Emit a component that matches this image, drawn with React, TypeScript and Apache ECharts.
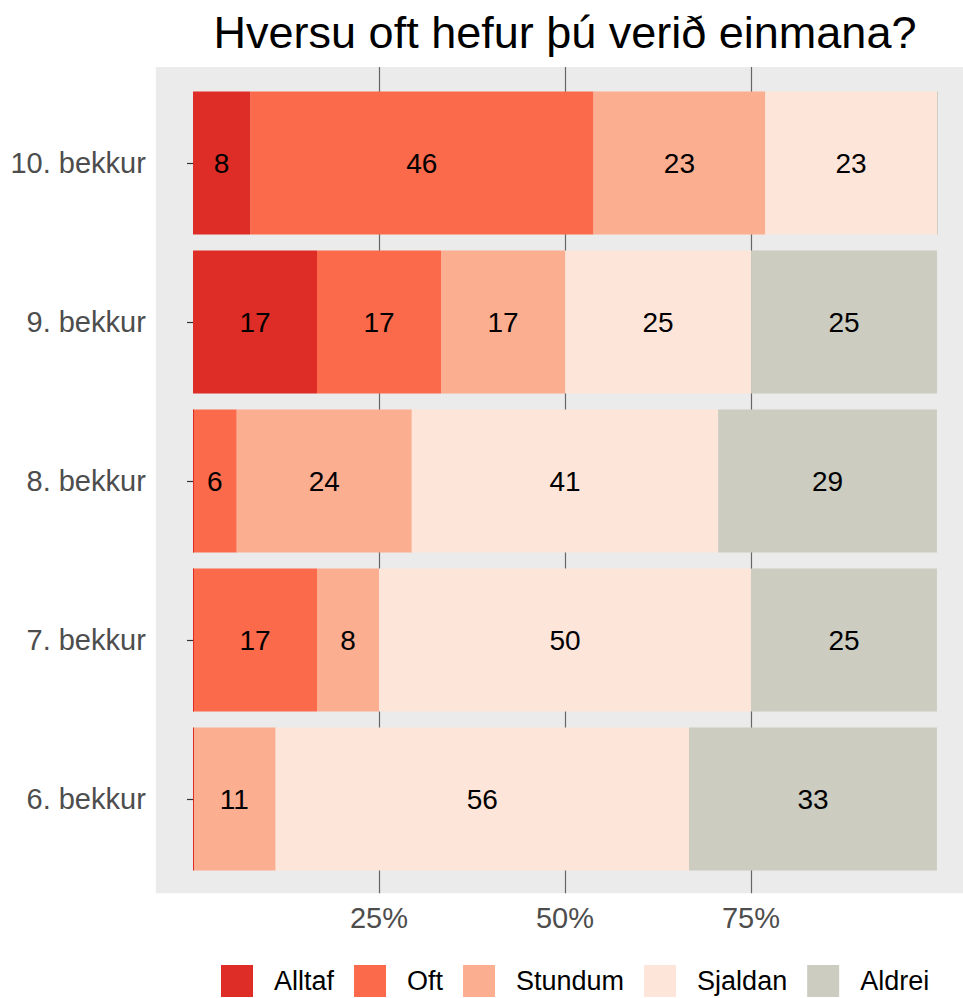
import React, { useEffect, useRef } from "react";
import * as echarts from "echarts";

const TITLE = "Hversu oft hefur þú verið einmana?";
const CATEGORIES = ["6. bekkur", "7. bekkur", "8. bekkur", "9. bekkur", "10. bekkur"];
const SERIES_NAMES = ["Alltaf", "Oft", "Stundum", "Sjaldan", "Aldrei"];
const COLORS = ["#DE2D26", "#FB6A4A", "#FCAE91", "#FEE5D9", "#CCCCC0"];
// percentages per category (6. -> 10. bekkur)
const ALLTAF = [0, 0, 0, 16.67, 7.69];
const OFT = [0, 16.67, 5.88, 16.67, 46.15];
const STUNDUM = [11.11, 8.33, 23.53, 16.67, 23.08];
const SJALDAN = [55.56, 50, 41.18, 25, 23.08];
const ALDREI = [33.33, 25, 29.41, 25, 0];
const X_TICKS = [25, 50, 75];

const VALUES = [ALLTAF, OFT, STUNDUM, SJALDAN, ALDREI];
const FONT = "Liberation Sans, Arial, Helvetica, sans-serif";

export default function App() {
  const ref = useRef<HTMLDivElement>(null);
  useEffect(() => {
    document.body.style.margin = "0";
    const chart = echarts.init(ref.current!, undefined, { renderer: "svg" });
    const gridBase = { left: 155.8, right: 0, outerBoundsMode: "none", containLabel: false };
    chart.setOption({
      animation: false,
      textStyle: { fontFamily: FONT },
      graphic: [
        {
          type: "text",
          x: 565,
          y: 32,
          style: {
            text: TITLE,
            fontSize: 45,
            fontFamily: FONT,
            fill: "#000",
            textAlign: "center",
            textVerticalAlign: "middle",
          },
        },
      ],
      legend: {
        left: 221,
        top: 965,
        padding: 0,
        itemWidth: 32,
        itemHeight: 32,
        itemGap: 20,
        icon: "rect",
        data: SERIES_NAMES,
        textStyle: { fontSize: 27, color: "#000", fontFamily: FONT, padding: [0, 0, 0, 16] },
      },
      grid: [
        { ...gridBase, top: 67, bottom: 104.7, show: true, backgroundColor: "#EBEBEB", borderWidth: 0 },
        { ...gridBase, top: 83.5, bottom: 119.5 },
      ],
      xAxis: [
        {
          type: "value",
          gridIndex: 0,
          min: -5,
          max: 103.5,
          axisLine: { show: false },
          axisTick: { show: false, customValues: X_TICKS },
          splitLine: { show: true, lineStyle: { color: "#666666", width: 1.2 } },
          axisLabel: {
            customValues: X_TICKS,
            formatter: (v: number) => v + "%",
            fontSize: 29,
            color: "#4D4D4D",
            margin: 10,
            fontFamily: FONT,
          },
        },
        {
          type: "value",
          gridIndex: 1,
          min: -5,
          max: 103.5,
          show: false,
          splitLine: { show: false },
        },
      ],
      yAxis: [
        { type: "value", gridIndex: 0, show: false, splitLine: { show: false } },
        {
          type: "category",
          gridIndex: 1,
          data: CATEGORIES,
          axisLine: { show: false },
          axisTick: { show: true, alignWithLabel: true, length: 6, lineStyle: { color: "#333333", width: 1.2 } },
          splitLine: { show: false },
          axisLabel: { fontSize: 29, color: "#4D4D4D", margin: 10, fontFamily: FONT },
        },
      ],
      series: SERIES_NAMES.map((name, i) => ({
        name,
        type: "bar",
        stack: "total",
        xAxisIndex: 1,
        yAxisIndex: 1,
        data: VALUES[i],
        barCategoryGap: "10%",
        barMinHeight: i === 0 || i === 4 ? 1 : 0,
        z: i === 0 ? 3 : 2,
        itemStyle: { color: COLORS[i] },
        label: {
          show: true,
          position: "inside",
          color: "#000",
          fontSize: 28,
          fontFamily: FONT,
          formatter: (p: any) => (p.value > 0 ? String(Math.round(p.value)) : ""),
        },
      })),
    });
    return () => chart.dispose();
  }, []);
  return <div ref={ref} style={{ position: "absolute", left: 0, top: 0, width: 963, height: 998 }} />;
}
